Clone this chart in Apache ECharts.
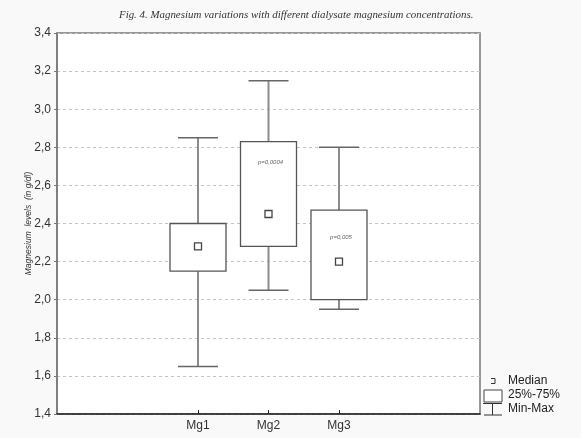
<!DOCTYPE html>
<html>
<head>
<meta charset="utf-8">
<style>
  html, body { margin: 0; padding: 0; background: #f9f9f9; }
  #main { width: 581px; height: 438px; }
</style>
<script src="https://cdn.jsdelivr.net/npm/echarts@6/dist/echarts.min.js"></script>
</head>
<body>
<div id="main"></div>
<script>
// axis slots: groups sit at index 2,3,4 of 7 slots
var slots = ['', '', 'Mg1', 'Mg2', 'Mg3', '', ''];
var groups = ['Mg1', 'Mg2', 'Mg3'];
var mins = [1.65, 2.05, 1.95];
var q1s = [2.15, 2.28, 2.00];
var medians = [2.28, 2.45, 2.20];
var q3s = [2.40, 2.83, 2.47];
var maxs = [2.85, 3.15, 2.80];
var pTexts = ['', 'p=0,0004', 'p=0,005'];
var pYs = [null, 2.72, 2.33];

var boxData = groups.map(function (g, i) {
  return [slots.indexOf(g), mins[i], q1s[i], medians[i], q3s[i], maxs[i], i];
});

var myChart = echarts.init(document.getElementById('main'));

function renderBox(params, api) {
  var x = api.value(0);
  var pMin = api.coord([x, api.value(1)]);
  var pQ1 = api.coord([x, api.value(2)]);
  var pMed = api.coord([x, api.value(3)]);
  var pQ3 = api.coord([x, api.value(4)]);
  var pMax = api.coord([x, api.value(5)]);
  var idx = api.value(6);
  var cx = pMin[0];
  var bw = 56, cw = 40, ms = 7;
  var kids = [
    { type: 'line', shape: { x1: cx, y1: pQ1[1], x2: cx, y2: pMin[1] }, style: { stroke: '#8c8c8c', lineWidth: 2 } },
    { type: 'line', shape: { x1: cx, y1: pQ3[1], x2: cx, y2: pMax[1] }, style: { stroke: '#8c8c8c', lineWidth: 2 } },
    { type: 'line', shape: { x1: cx - cw / 2, y1: pMin[1], x2: cx + cw / 2, y2: pMin[1] }, style: { stroke: '#666', lineWidth: 1.5 } },
    { type: 'line', shape: { x1: cx - cw / 2, y1: pMax[1], x2: cx + cw / 2, y2: pMax[1] }, style: { stroke: '#666', lineWidth: 1.5 } },
    { type: 'rect', shape: { x: cx - bw / 2, y: pQ3[1], width: bw, height: pQ1[1] - pQ3[1] }, style: { fill: '#fff', stroke: '#555', lineWidth: 1.3 } },
    { type: 'rect', shape: { x: cx - ms / 2, y: pMed[1] - ms / 2, width: ms, height: ms }, style: { fill: '#fff', stroke: '#444', lineWidth: 1.3 } }
  ];
  if (pTexts[idx]) {
    var pp = api.coord([x, pYs[idx]]);
    kids.push({ type: 'text', x: pp[0] + 2, y: pp[1], style: {
      text: pTexts[idx], fill: '#666', font: 'italic 6px "Liberation Sans", Arial, sans-serif',
      align: 'center', verticalAlign: 'middle' } });
  }
  return { type: 'group', children: kids };
}

var option = {
  backgroundColor: '#f9f9f9',
  animation: false,
  title: {
    text: 'Fig. 4. Magnesium variations with different dialysate magnesium concentrations.',
    left: 114,
    top: 5,
    textStyle: {
      fontFamily: '"Liberation Serif", "DejaVu Serif", serif',
      fontStyle: 'italic',
      fontWeight: 'normal',
      fontSize: 10.9,
      color: '#333'
    }
  },
  grid: {
    left: 57,
    right: 101,
    top: 33,
    bottom: 24,
    show: true,
    backgroundColor: '#fff',
    borderColor: '#777',
    borderWidth: 1.5
  },
  xAxis: {
    type: 'category',
    data: slots,
    boundaryGap: false,
    axisLine: { lineStyle: { color: '#222', width: 1.5 } },
    axisTick: {
      inside: true,
      length: 4,
      lineStyle: { color: '#222' },
      interval: function (i, v) { return v !== ''; }
    },
    axisLabel: {
      interval: 0,
      color: '#333',
      fontSize: 12,
      fontFamily: '"Liberation Sans", Arial, sans-serif',
      margin: 6
    },
    splitLine: { show: false }
  },
  yAxis: {
    type: 'value',
    min: 1.4,
    max: 3.4,
    interval: 0.2,
    name: 'Magnesium  levels  (in g/dl)',
    nameLocation: 'middle',
    nameGap: 24,
    nameMoveOverlap: false,
    nameTextStyle: {
      fontStyle: 'italic',
      fontSize: 8.5,
      color: '#333',
      fontFamily: '"Liberation Sans", Arial, sans-serif'
    },
    axisLine: { show: true, lineStyle: { color: '#777', width: 1.5 } },
    axisTick: { show: true, length: 3, lineStyle: { color: '#777' } },
    axisLabel: {
      color: '#333',
      fontSize: 12,
      fontFamily: '"Liberation Sans", Arial, sans-serif',
      margin: 6,
      formatter: function (v) { return v.toFixed(1).replace('.', ','); }
    },
    splitLine: { lineStyle: { color: '#c4c4c4', type: [3, 3], width: 1 } }
  },
  series: [{
    type: 'custom',
    renderItem: renderBox,
    data: boxData,
    encode: { x: 0, y: [1, 5] },
    z: 5
  }],
  graphic: [
    { type: 'polyline', shape: { points: [[491, 378.5], [495, 378.5], [495, 383.5], [491, 383.5]] }, style: { stroke: '#333', fill: null, lineWidth: 1 } },
    { type: 'text', x: 508, y: 381, style: { text: 'Median', fill: '#222', font: '12px "Liberation Sans", Arial, sans-serif', verticalAlign: 'middle' } },
    { type: 'rect', shape: { x: 484, y: 390, width: 18, height: 12 }, style: { fill: '#fff', stroke: '#444', lineWidth: 1 } },
    { type: 'text', x: 508, y: 395, style: { text: '25%-75%', fill: '#222', font: '12px "Liberation Sans", Arial, sans-serif', verticalAlign: 'middle' } },
    { type: 'line', shape: { x1: 483, y1: 403.5, x2: 502, y2: 403.5 }, style: { stroke: '#333', lineWidth: 1 } },
    { type: 'line', shape: { x1: 492.5, y1: 403.5, x2: 492.5, y2: 415 }, style: { stroke: '#333', lineWidth: 1 } },
    { type: 'line', shape: { x1: 484, y1: 415, x2: 502, y2: 415 }, style: { stroke: '#333', lineWidth: 1 } },
    { type: 'text', x: 508, y: 409, style: { text: 'Min-Max', fill: '#222', font: '12px "Liberation Sans", Arial, sans-serif', verticalAlign: 'middle' } }
  ]
};

myChart.setOption(option);
</script>
</body>
</html>
